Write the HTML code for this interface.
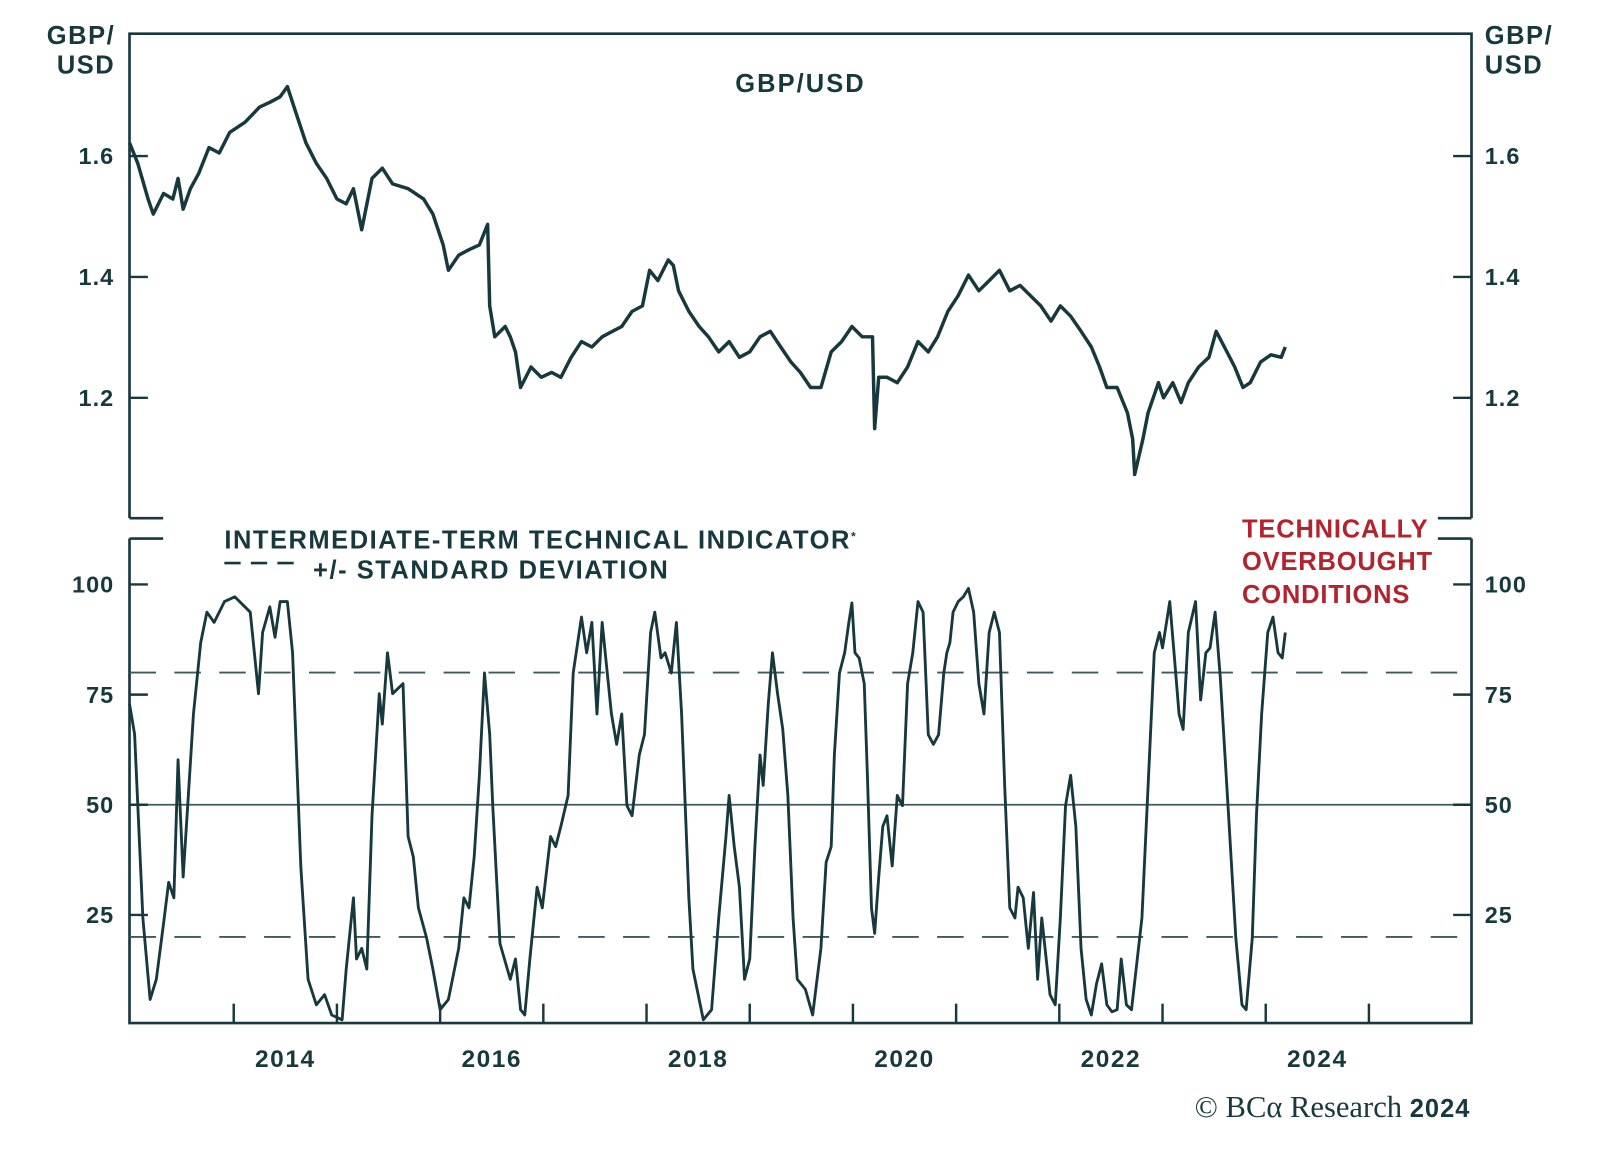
<!DOCTYPE html>
<html><head><meta charset="utf-8"><style>
html,body{margin:0;padding:0;background:#fff;}
svg{display:block}
text{font-family:"Liberation Sans",sans-serif;font-weight:bold;fill:#17383d}
</style></head><body>
<svg id="chart" width="1600" height="1174" viewBox="0 0 1569 1151" preserveAspectRatio="none">
<g id="frame" stroke="#17383d" stroke-width="2.6" fill="none">
<path d="M127,508 V33 H1443 V508" />
<path d="M127,508 H160 M1410,508 H1443" />
<path d="M127,528 H160 M1410,528 H1443" />
<path d="M127,528 V1003 H1443 V528" />
</g>
<g id="top-axes"></g>
<g id="bot-axes"></g>
<g id="xaxis"></g>
<g id="series"></g>
<text x="113" y="43" text-anchor="end" font-size="25" letter-spacing="1.5">GBP/</text>
<text x="113" y="72" text-anchor="end" font-size="25" letter-spacing="1.5">USD</text>
<text x="1456" y="43" font-size="25" letter-spacing="1.5">GBP/</text>
<text x="1456" y="72" font-size="25" letter-spacing="1.5">USD</text>
<text x="785" y="90" text-anchor="middle" font-size="25" letter-spacing="2">GBP/USD</text>
<text x="220" y="538" font-size="25" letter-spacing="1.5">INTERMEDIATE-TERM TECHNICAL INDICATOR<tspan font-size="12" dy="-8">*</tspan></text>
<line x1="220" y1="552" x2="295" y2="552" stroke="#17383d" stroke-width="2.6" stroke-dasharray="16,10"/>
<text x="307" y="567" font-size="25" letter-spacing="1.5">+/- STANDARD DEVIATION</text>
<g>
<text x="1218" y="527" font-size="25" letter-spacing="0.8" style="fill:#b3232e">TECHNICALLY</text>
<text x="1218" y="559" font-size="25" letter-spacing="0.8" style="fill:#b3232e">OVERBOUGHT</text>
<text x="1218" y="591" font-size="25" letter-spacing="0.8" style="fill:#b3232e">CONDITIONS</text>
</g>
<text x="1442" y="1095" text-anchor="end" font-size="30" style="font-family:'Liberation Serif',serif;font-weight:normal">© BCα Research <tspan style="font-family:'Liberation Sans',sans-serif;font-weight:bold" font-size="25" letter-spacing="1">2024</tspan></text>
</svg>
<script>
const gbpDates=[2012.99,2013.07,2013.17,2013.22,2013.32,2013.41,2013.46,2013.51,2013.58,2013.66,2013.76,2013.86,2013.96,2014.11,2014.25,2014.35,2014.45,2014.52,2014.60,2014.70,2014.80,2014.90,2015.00,2015.09,2015.16,2015.24,2015.34,2015.44,2015.54,2015.69,2015.84,2015.93,2016.03,2016.08,2016.18,2016.28,2016.38,2016.46,2016.48,2016.53,2016.63,2016.68,2016.73,2016.78,2016.88,2016.98,2017.08,2017.17,2017.27,2017.37,2017.47,2017.57,2017.67,2017.76,2017.86,2017.96,2018.03,2018.11,2018.21,2018.26,2018.31,2018.41,2018.51,2018.60,2018.70,2018.80,2018.90,2019.00,2019.10,2019.20,2019.30,2019.40,2019.49,2019.59,2019.69,2019.79,2019.89,2019.99,2020.09,2020.19,2020.21,2020.25,2020.33,2020.43,2020.53,2020.63,2020.73,2020.82,2020.92,2021.02,2021.12,2021.22,2021.32,2021.42,2021.52,2021.62,2021.72,2021.82,2021.92,2022.01,2022.11,2022.21,2022.31,2022.39,2022.46,2022.56,2022.66,2022.71,2022.73,2022.81,2022.86,2022.96,2023.01,2023.10,2023.18,2023.25,2023.35,2023.45,2023.52,2023.60,2023.70,2023.78,2023.85,2023.95,2024.05,2024.15,2024.19];
const gbpValues=[1.622,1.588,1.529,1.504,1.538,1.529,1.563,1.512,1.546,1.571,1.614,1.605,1.639,1.656,1.681,1.689,1.698,1.715,1.673,1.622,1.588,1.563,1.529,1.521,1.546,1.478,1.563,1.580,1.554,1.546,1.529,1.504,1.453,1.411,1.436,1.445,1.453,1.487,1.352,1.301,1.318,1.301,1.276,1.217,1.251,1.234,1.242,1.234,1.267,1.293,1.284,1.301,1.310,1.318,1.343,1.352,1.411,1.394,1.428,1.419,1.377,1.343,1.318,1.301,1.276,1.293,1.267,1.276,1.301,1.310,1.284,1.259,1.242,1.217,1.217,1.276,1.293,1.318,1.301,1.301,1.149,1.234,1.234,1.225,1.251,1.293,1.276,1.301,1.343,1.369,1.403,1.377,1.394,1.411,1.377,1.386,1.369,1.352,1.327,1.352,1.335,1.310,1.284,1.251,1.217,1.217,1.175,1.132,1.073,1.132,1.175,1.225,1.200,1.225,1.192,1.225,1.251,1.267,1.310,1.284,1.251,1.217,1.225,1.259,1.271,1.267,1.284];
const indDates=[2012.99,2013.04,2013.12,2013.19,2013.25,2013.32,2013.37,2013.42,2013.46,2013.51,2013.56,2013.61,2013.68,2013.74,2013.81,2013.91,2014.01,2014.16,2014.24,2014.28,2014.35,2014.40,2014.45,2014.52,2014.57,2014.65,2014.72,2014.80,2014.88,2014.95,2015.05,2015.09,2015.16,2015.19,2015.24,2015.29,2015.34,2015.41,2015.44,2015.49,2015.54,2015.64,2015.69,2015.74,2015.79,2015.87,2015.93,2016.00,2016.08,2016.18,2016.23,2016.28,2016.33,2016.38,2016.43,2016.48,2016.51,2016.58,2016.68,2016.73,2016.78,2016.82,2016.87,2016.94,2016.99,2017.07,2017.12,2017.17,2017.24,2017.29,2017.37,2017.42,2017.47,2017.52,2017.57,2017.61,2017.66,2017.71,2017.76,2017.81,2017.86,2017.93,2017.98,2018.04,2018.08,2018.14,2018.18,2018.24,2018.29,2018.34,2018.41,2018.45,2018.55,2018.63,2018.70,2018.77,2018.80,2018.85,2018.90,2018.95,2019.00,2019.05,2019.10,2019.13,2019.18,2019.22,2019.27,2019.32,2019.37,2019.42,2019.46,2019.54,2019.61,2019.69,2019.74,2019.79,2019.82,2019.87,2019.92,2019.96,2019.99,2020.02,2020.06,2020.11,2020.14,2020.18,2020.21,2020.25,2020.29,2020.33,2020.38,2020.43,2020.48,2020.53,2020.58,2020.63,2020.68,2020.73,2020.78,2020.83,2020.88,2020.91,2020.94,2020.97,2021.02,2021.07,2021.12,2021.17,2021.22,2021.27,2021.32,2021.37,2021.42,2021.47,2021.52,2021.57,2021.60,2021.65,2021.70,2021.75,2021.79,2021.83,2021.91,2021.96,2022.01,2022.06,2022.11,2022.16,2022.21,2022.26,2022.31,2022.36,2022.41,2022.46,2022.51,2022.56,2022.60,2022.65,2022.70,2022.80,2022.87,2022.92,2022.97,2023.00,2023.07,2023.12,2023.16,2023.20,2023.25,2023.32,2023.37,2023.42,2023.46,2023.51,2023.56,2023.64,2023.71,2023.77,2023.81,2023.87,2023.91,2023.96,2024.02,2024.07,2024.12,2024.16,2024.19];
const indValues=[72.9,66,24.3,5.8,10.4,23.1,32.4,28.9,60.2,33.6,52.1,70.6,86.8,93.7,91.4,96.1,97.2,93.7,75.2,89.1,94.9,88,96.1,96.1,84.5,35.9,10.4,4.6,6.9,2.3,1.2,12.7,28.9,15,17.4,12.7,47.5,75.2,68.3,84.5,75.2,77.5,42.8,38.2,26.6,19.7,12.7,3.5,5.8,17.4,28.9,26.6,38.2,56.7,79.9,66,49.8,18.5,10.4,15,3.5,2.3,15,31.3,26.6,42.8,40.5,45.1,52.1,79.9,92.6,84.5,91.4,70.6,91.4,82.2,70.6,63.7,70.6,49.8,47.5,61.3,66,89.1,93.7,83.3,84.5,79.9,91.4,70.6,28.9,12.7,1.2,3.5,24.3,42.8,52.1,40.5,31.3,10.4,15,40.5,61.3,54.4,72.9,84.5,75.2,67.1,52.1,24.3,10.4,8.1,2.3,17.4,36.9,40.5,61.3,79.9,84.5,91.4,95.8,84.5,83.3,77.5,56.7,26.6,20.8,33.6,45.1,47.5,36.1,52.1,49.8,77.5,84.5,96.1,93.7,65.9,63.7,65.9,79.9,84.5,86.8,93.7,96.1,97.2,99.1,93.7,77.5,70.6,89.1,93.7,89.1,54.4,26.6,24.3,31.3,28.9,17.4,30.1,10.4,24.3,6.9,4.6,24.3,49.8,56.7,45.1,17.4,5.8,2.3,9.3,13.9,4.6,3,3.5,15,4.6,3.5,24.3,59,84.5,89.1,85.6,96.1,82.2,70.6,67.1,89.1,96.1,73.8,84.5,85.6,93.7,78.7,47.5,19.7,4.6,3.5,19.7,47.5,70.6,89.1,92.6,84.5,83.3,89.1];
const gbpTicks=[1.6,1.4,1.2];
const gbpTickLabels=["1.6","1.4","1.2"];
const indTicks=[100,75,50,25];
const indTickLabels=["100","75","50","25"];
const refLines=[80,20];
const midLine=[50];
const yearTicks=[2014,2015,2016,2017,2018,2019,2020,2021,2022,2023,2024,2025];
const yearLabels=["2014","2016","2018","2020","2022","2024"];

const NS="http://www.w3.org/2000/svg";
const C="#17383d";
function X(t){return 128+(t-2013)*101.2;}
function YT(v){return 153+(1.6-v)*592.5;}
function YB(v){return Math.min(1003,1005-v*4.32);}
function mk(tag,attrs,parent){const e=document.createElementNS(NS,tag);for(const k in attrs)e.setAttribute(k,attrs[k]);parent.appendChild(e);return e;}

const ta=document.getElementById('top-axes');
gbpTicks.forEach((v,i)=>{
  const y=YT(v);
  const l=mk('path',{d:`M127,${y}H145M1425,${y}H1443`,stroke:C,'stroke-width':2.4},ta);
  
  
  const a=mk('text',{x:112,y:y+8,'text-anchor':'end','font-size':23,'letter-spacing':1},ta);a.textContent=gbpTickLabels[i];
  
  
  const b=mk('text',{x:1456,y:y+8,'font-size':23,'letter-spacing':1},ta);b.textContent=gbpTickLabels[i];
  
  
});
const ba=document.getElementById('bot-axes');
refLines.forEach(v=>{
  const l=mk('line',{x1:127,x2:1443,y1:YB(v),y2:YB(v),stroke:'#3e5a5e','stroke-width':1.8,'stroke-dasharray':'26,18'},ba);
  
  
});
midLine.forEach(v=>{
  const l=mk('line',{x1:127,x2:1443,y1:YB(v),y2:YB(v),stroke:'#3e5a5e','stroke-width':1.8},ba);
  
  
});
indTicks.forEach((v,i)=>{
  const y=YB(v);
  const l=mk('path',{d:`M127,${y}H145M1425,${y}H1443`,stroke:C,'stroke-width':2.4},ba);
  
  
  const a=mk('text',{x:112,y:y+8,'text-anchor':'end','font-size':23,'letter-spacing':1},ba);a.textContent=indTickLabels[i];
  
  
  const b=mk('text',{x:1456,y:y+8,'font-size':23,'letter-spacing':1},ba);b.textContent=indTickLabels[i];
  
  
});
const xa=document.getElementById('xaxis');
yearTicks.forEach(t=>{
  const l=mk('line',{x1:X(t),x2:X(t),y1:1003,y2:984,stroke:C,'stroke-width':2.4},xa);
  
  
});
yearLabels.forEach(s=>{
  const t=mk('text',{x:X(+s+0.5),y:1046,'text-anchor':'middle','font-size':24,'letter-spacing':1.5},xa);t.textContent=s;
  
  
});
const se=document.getElementById('series');
const p1=mk('path',{d:gbpDates.map((t,i)=>(i?'L':'M')+X(t).toFixed(1)+','+YT(gbpValues[i]).toFixed(1)).join(''),fill:'none',stroke:C,'stroke-width':3.4,'stroke-linejoin':'round'},se);


const p2=mk('path',{d:indDates.map((t,i)=>(i?'L':'M')+X(t).toFixed(1)+','+YB(indValues[i]).toFixed(1)).join(''),fill:'none',stroke:C,'stroke-width':2.8,'stroke-linejoin':'round'},se);


</script>
</body></html>
